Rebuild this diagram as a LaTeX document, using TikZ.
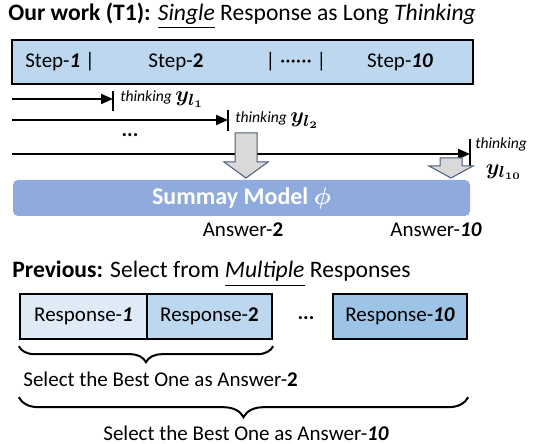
\documentclass[tikz,border=0pt]{standalone}
\usepackage{fontspec}
\setmainfont{Carlito}
\usepackage{amsmath}
\usetikzlibrary{positioning,arrows.meta,calc,decorations.pathreplacing}
\definecolor{stepblue}{HTML}{BDD7EE}
\definecolor{sumblue}{HTML}{8FAADC}
\definecolor{resp1}{HTML}{DEEBF7}
\definecolor{resp2}{HTML}{BDD7EE}
\definecolor{resp3}{HTML}{9DC3E6}
\definecolor{arrowgray}{HTML}{D9D9D9}
\definecolor{arrowline}{HTML}{4A5C78}
\newcommand{\bfit}[1]{\textbf{\textit{#1}}}
\newcommand{\ylab}[1]{{\fontsize{11}{13}\selectfont$\boldsymbol{y_{l_{#1}}}$}}

\begin{document}
\begin{tikzpicture}[
  x=0.5pt,y=-0.5pt,
  font=\fontsize{10.5}{12.6}\selectfont,
  >={Triangle[length=6pt,width=5pt]},
  bar/.style={draw,line width=1.2pt,inner sep=0pt},
  stepbar/.style={bar,fill=stepblue,minimum width=230.5pt,minimum height=22pt},
  resp/.style={bar,minimum height=22.5pt},
  summary/.style={fill=sumblue,rounded corners=2.5pt,minimum width=228.5pt,minimum height=18pt,
                  text=white,font=\fontsize{12}{14}\selectfont\bfseries},
  flow/.style={->,line width=1pt},
  tickmark/.style={line width=1pt},
  think/.style={inner sep=0pt,font=\fontsize{7.8}{9}\selectfont\itshape},
  blockarrow/.style={fill=arrowgray,draw=arrowline,line width=0.5pt,line join=miter},
  brace/.style={decorate,decoration={brace,mirror,amplitude=#1},line width=1pt},
  lab/.style={inner sep=0pt},
  title/.style={lab,anchor=base west,font=\fontsize{11.8}{14}\selectfont},
]
\useasboundingbox (0,0) rectangle (537,444);
% ---- top: single long response ----
\node[title] (title1) at (8,20.5)
  {\textbf{Our work (T1):} \underline{\textit{Single}} Response as Long \textit{Thinking}};
\node[stepbar] (steps) at (242.5,62) {};
\node[lab] (st1) at (60,62)  {Step-\bfit{1} |};
\node[lab] (st2) at (176,62) {Step-\textbf{2}};
\node[lab] (st3) at (296,62) {| ······ |};
\node[lab] (st4) at (400,62) {Step-\bfit{10}};
% thinking prefixes
\coordinate (s1) at (12,99);  \coordinate (t1) at (113,99);
\coordinate (s2) at (12,120); \coordinate (t2) at (228,120);
\coordinate (s3) at (12,154); \coordinate (t3) at (470,154);
\draw[flow] (s1) -- (t1);
\draw[flow] (s2) -- (t2);
\draw[flow] (s3) -- (t3);
\draw[tickmark] ($(t1)+(0,-8)$) -- ($(t1)+(0,12)$);
\draw[tickmark] ($(t2)+(0,-10)$) -- ($(t2)+(0,11)$);
\draw[tickmark] ($(t3)+(0,-15)$) -- ($(t3)+(0,12)$);
\node[think,anchor=west] (th1) at (120,99) {thinking \ylab{1}};
\node[think,anchor=west] (th2) at (235,120) {thinking \ylab{2}};
\node[think,anchor=west] (th3) at (475,144) {thinking};
\node[lab] (y3) at (504,172) {\ylab{10}};
\node[lab] (vdots) at (130,135) {\textbf{...}};
% block arrows into the summary model
\draw[blockarrow] (235,133) -- (257,133) -- (257,162) -- (268,162) -- (246,178)
  -- (224,162) -- (235,162) -- cycle;
\draw[blockarrow] (440,158) -- (462,158) -- (462,166) -- (473,166) -- (451,178)
  -- (429,166) -- (440,166) -- cycle;
\node[summary] (sum) at (241.5,198) {Summay Model $\boldsymbol{\phi}$};
\node[lab] (ans2)  at (243,230) {Answer-\textbf{2}};
\node[lab] (ans10) at (436,230) {Answer-\bfit{10}};
% ---- bottom: multiple responses ----
\node[title] (title2) at (12,278)
  {\textbf{Previous:} Select from \underline{\textit{Multiple}} Responses};
\node[resp,fill=resp1,minimum width=63.5pt] (r1) at (83.5,316.5) {Response-\bfit{1}};
\node[resp,fill=resp2,minimum width=62.5pt] (r2) at (209.5,316.5) {Response-\textbf{2}};
\node[lab] (rdots) at (306,318) {\textbf{...}};
\node[resp,fill=resp3,minimum width=67pt] (r3) at (400,316.5) {Response-\bfit{10}};
\draw[brace=8pt] ([yshift=-3pt]r1.south west) -- ([yshift=-3pt]r2.south east);
\draw[brace=10pt] ([yshift=-28.5pt]r1.south west) -- ([yshift=-28.5pt]r3.south east);
\node[lab,anchor=west] (sel2) at (23,379) {Select the Best One as Answer-\textbf{2}};
\node[lab] (sel10) at (246,433) {Select the Best One as Answer-\bfit{10}};
\end{tikzpicture}
\end{document}
